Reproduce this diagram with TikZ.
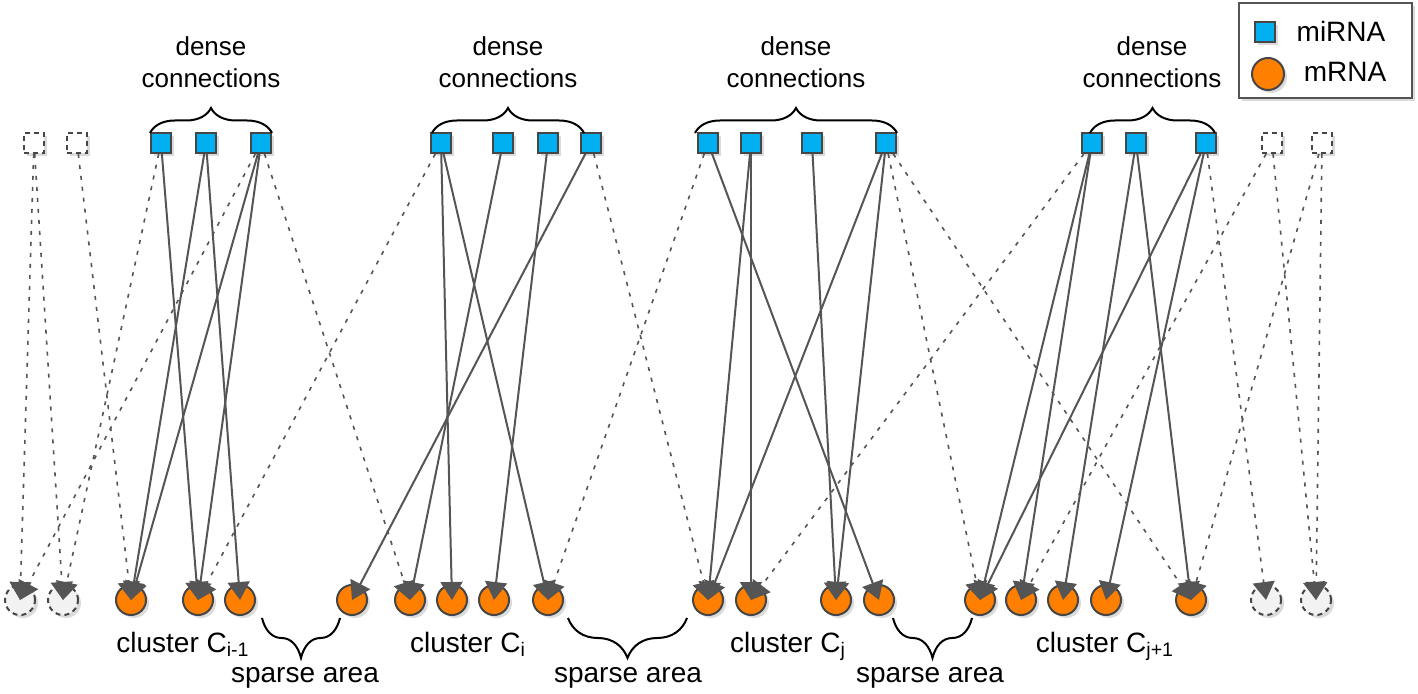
\documentclass[tikz,border=0pt]{standalone}
\usepackage{fontspec}
\setmainfont{Liberation Sans}
\usetikzlibrary{arrows.meta,shadows,decorations.pathreplacing}

\definecolor{mirblue}{HTML}{00B0F0}
\definecolor{mrnaorange}{HTML}{FF8000}
\definecolor{nodeline}{HTML}{464646}
\definecolor{edgegray}{HTML}{555555}
\definecolor{ghostfill}{HTML}{F2F2F2}

\begin{document}
\begin{tikzpicture}[x=0.5pt,y=-0.5pt,
    font=\fontsize{14}{16}\selectfont,
    softshadow/.style={drop shadow={shadow xshift=1.5pt,shadow yshift=-1.5pt,fill=black!14,opacity=1}},
    mir/.style={rectangle,minimum size=10pt,inner sep=0pt,fill=mirblue,draw=nodeline,line width=1pt,softshadow},
    mrna/.style={circle,minimum size=15pt,inner sep=0pt,fill=mrnaorange,draw=nodeline,line width=1pt,softshadow},
    ghostmir/.style={mir,fill=white,dash pattern=on 2.5pt off 2pt},
    ghostmrna/.style={mrna,fill=ghostfill,dash pattern=on 2.5pt off 2pt},
    link/.style={draw=edgegray,line width=1pt,-{Triangle[width=11pt,length=9pt]}},
    weak/.style={link,line width=0.8pt,dash pattern=on 2pt off 3.5pt},
    densebrace/.style={decorate,decoration={brace,amplitude=12.5pt},line width=1pt},
    sparsebrace/.style={decorate,decoration={brace,amplitude=20pt},line width=1pt},
    toplabel/.style={anchor=base,font=\fontsize{13}{15}\selectfont}]
    \useasboundingbox (0,0) rectangle (1418,694);

    % miRNA row
    \foreach \n/\x in {h1/161,h2/206,h3/261,i1/441,i2/503,i3/548,i4/591,
                       j1/708,j2/751,j3/812,j4/886,k1/1092,k2/1136,k3/1206}
        \node[mir] (mir\n) at (\x,143) {};
    \foreach \n/\x in {g1/34,g2/77,g3/1272,g4/1322}
        \node[ghostmir] (mir\n) at (\x,143) {};

    % mRNA row
    \foreach \n/\x in {h1/131,h2/198,h3/240,i1/352,i2/410,i3/452,i4/494,i5/548,
                       j1/708,j2/751,j3/836,j4/879,k1/980,k2/1021,k3/1063,k4/1106,k5/1191}
        \node[mrna] (mrna\n) at (\x,600) {};
    \foreach \n/\x in {g1/20,g2/63,g3/1266,g4/1316}
        \node[ghostmrna] (mrna\n) at (\x,600) {};

    % Dense connections
    \foreach \s/\t in {h1/h2,h2/h1,h2/h3,h3/h1,h3/h2,
                       i1/i3,i1/i5,i2/i2,i3/i4,i4/i1,
                       j1/j4,j2/j1,j2/j2,j3/j3,j4/j1,j4/j3,
                       k1/k1,k1/k2,k2/k3,k2/k5,k3/k1,k3/k4}
        \draw[link] (mir\s) -- (mrna\t.center);

    % Sparse connections
    \foreach \s/\t in {g1/g1,g1/g2,g2/h1,h1/g2,h3/g1,h3/i2,i1/h2,i4/j1,
                       j1/i5,j4/k1,j4/k5,k1/j2,k3/g3,g3/k2,g3/g4,g4/g4,g4/k5}
        \draw[weak] (mir\s) -- (mrna\t.center);

    % Braces
    \draw[densebrace] (150,133) -- (272,133);
    \draw[densebrace] (432,133) -- (584,133);
    \draw[densebrace] (695,133) -- (897,133);
    \draw[densebrace] (1090,133) -- (1215,133);
    \draw[sparsebrace] (340,618) -- (262,618);
    \draw[sparsebrace] (687,618) -- (568,618);
    \draw[sparsebrace] (972,618) -- (893,618);

    % Labels
    \foreach \n/\x in {a/211,b/508,c/796,d/1152} {
        \node[toplabel] (dense\n) at (\x,56) {dense};
        \node[toplabel] (conn\n) at (\x,88) {connections};
    }
    \foreach \n/\x in {a/305,b/628,c/930}
        \node[anchor=base] (sparse\n) at (\x,682) {sparse area};
    \node[anchor=base] (clush) at (183,652) {cluster C\textsubscript{i-1}};
    \node[anchor=base] (clusi) at (468,652) {cluster C\textsubscript{i}};
    \node[anchor=base] (clusj) at (788,652) {cluster C\textsubscript{j}};
    \node[anchor=base] (clusk) at (1105,652) {cluster C\textsubscript{j+1}};

    % Legend
    \draw[draw=edgegray,line width=0.8pt,fill=white,softshadow] (1239,3) rectangle (1412,98);
    \node[mir] (legmir) at (1265,32) {};
    \node[mrna,minimum size=16pt] (legmrna) at (1268,74) {};
    \node[anchor=base] (legmirtext) at (1341,42) {miRNA};
    \node[anchor=base] (legmrnatext) at (1345,82) {mRNA};
\end{tikzpicture}
\end{document}
